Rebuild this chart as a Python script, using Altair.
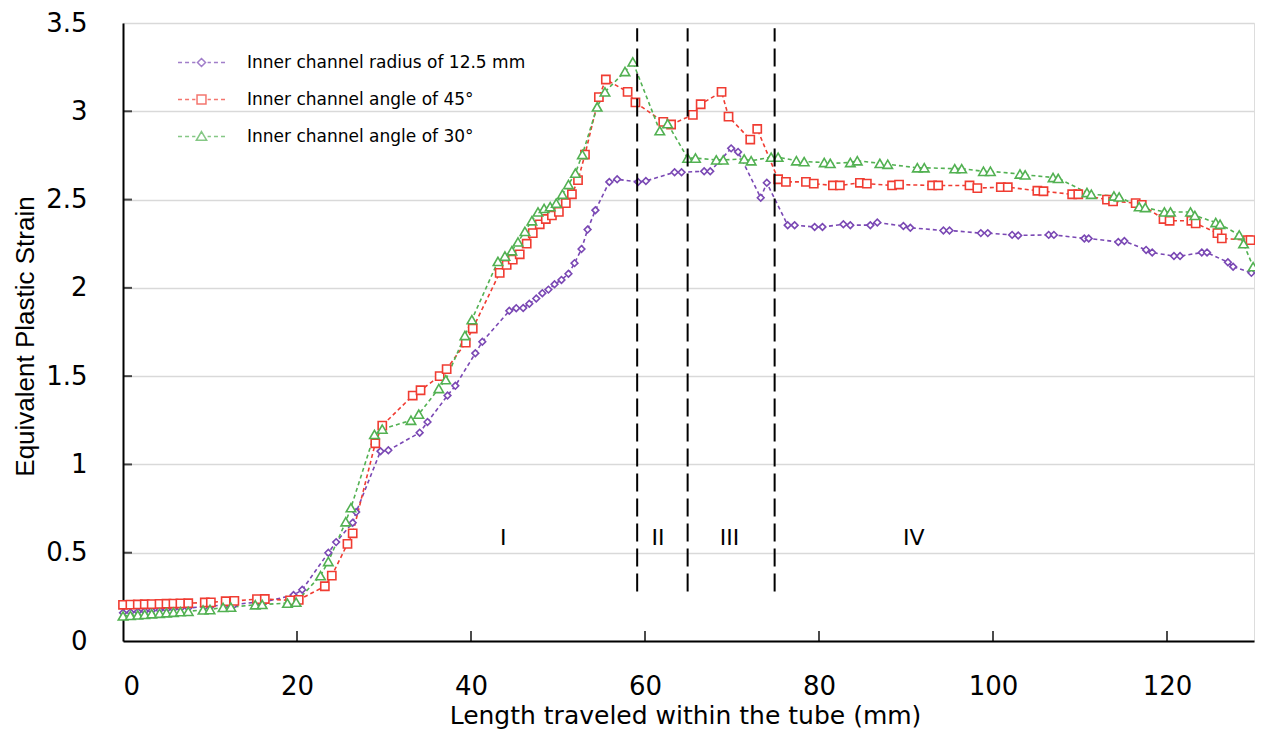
import altair as alt
import pandas as pd

S1 = "Inner channel radius of 12.5 mm"
S2 = "Inner channel angle of 45°"
S3 = "Inner channel angle of 30°"
series_names = [S1, S2, S3]
series_colors = ["#7A48B4", "#F03C32", "#52B152"]

# Inner channel radius of 12.5 mm
rad_x = [0, 0.85, 1.7, 2.5, 3.3, 4.2, 5.0, 5.8, 6.6, 7.5, 9.4, 10.1, 11.8, 12.8, 15.4, 16.3,
         19.6, 20.6, 23.6, 24.5, 26.4, 26.8, 29.6, 30.5, 34.1, 35.0, 37.3, 38.2, 40.5, 41.3,
         44.4, 45.2, 46.0, 46.7, 47.5, 48.2, 48.9, 49.6, 50.4, 51.2, 51.9, 52.7, 53.4, 54.3,
         55.9, 56.8, 59.2, 60.1, 63.4, 64.2, 66.8, 67.5, 69.9, 70.7, 73.3, 74.0, 76.4, 77.2,
         79.5, 80.4, 82.8, 83.6, 85.9, 86.7, 89.7, 90.5, 94.3, 95.0, 98.6, 99.4, 102.2, 102.9,
         106.4, 107.0, 110.5, 111.0, 114.4, 115.1, 117.6, 118.3, 120.8, 121.5, 124.0, 124.6,
         127.0, 127.6, 129.7]
rad_y = [0.16, 0.163, 0.166, 0.169, 0.172, 0.175, 0.178, 0.181, 0.184, 0.187, 0.195, 0.197,
         0.205, 0.207, 0.22, 0.222, 0.26, 0.29, 0.50, 0.56, 0.67, 0.73, 1.075, 1.08, 1.18, 1.24,
         1.39, 1.445, 1.63, 1.695, 1.87, 1.885, 1.886, 1.91, 1.94, 1.97, 1.99, 2.02, 2.045, 2.08,
         2.14, 2.22, 2.33, 2.44, 2.60, 2.615, 2.60, 2.605, 2.655, 2.655, 2.66, 2.66, 2.79, 2.77,
         2.51, 2.595, 2.355, 2.355, 2.345, 2.345, 2.36, 2.355, 2.355, 2.37, 2.35, 2.34, 2.325,
         2.325, 2.31, 2.31, 2.30, 2.297, 2.30, 2.30, 2.28, 2.28, 2.26, 2.265, 2.215, 2.20, 2.18,
         2.18, 2.20, 2.20, 2.145, 2.12, 2.085]

# Inner channel angle of 45 deg
a45_x = [0, 0.85, 1.7, 2.5, 3.3, 4.2, 5.0, 5.8, 6.6, 7.5, 9.4, 10.1, 11.8, 12.8, 15.4, 16.3,
         19.2, 20.2, 23.2, 24.0, 25.8, 26.4, 29.0, 29.8, 33.3, 34.2, 36.4, 37.2, 39.4, 40.2,
         43.3, 44.1, 44.8, 45.6, 46.4, 47.1, 47.9, 48.6, 49.3, 50.1, 50.9, 51.6, 52.3, 53.1,
         54.7, 55.5, 58.0, 58.9, 62.1, 63.0, 65.5, 66.4, 68.8, 69.6, 72.1, 72.9, 75.3, 76.2,
         78.5, 79.4, 81.6, 82.4, 84.7, 85.5, 88.4, 89.2, 93.0, 93.7, 97.3, 98.2, 100.9, 101.7,
         105.1, 105.8, 109.1, 109.8, 113.1, 113.8, 116.4, 117.1, 119.6, 120.3, 122.8, 123.3,
         125.8, 126.3, 129.3, 129.6]
a45_y = [0.205, 0.206, 0.207, 0.208, 0.209, 0.21, 0.211, 0.212, 0.213, 0.214, 0.218, 0.219,
         0.225, 0.227, 0.237, 0.238, 0.230, 0.233, 0.31, 0.37, 0.55, 0.61, 1.12, 1.22, 1.39, 1.42,
         1.50, 1.54, 1.69, 1.77, 2.085, 2.13, 2.16, 2.19, 2.25, 2.31, 2.36, 2.39, 2.41, 2.43,
         2.48, 2.53, 2.61, 2.755, 3.08, 3.18, 3.11, 3.05, 2.94, 2.925, 2.98, 3.04, 3.11, 2.97,
         2.84, 2.90, 2.615, 2.60, 2.60, 2.59, 2.58, 2.58, 2.595, 2.59, 2.58, 2.585, 2.58, 2.58,
         2.58, 2.565, 2.57, 2.57, 2.55, 2.547, 2.53, 2.53, 2.50, 2.49, 2.48, 2.47, 2.39, 2.38,
         2.38, 2.365, 2.31, 2.28, 2.27, 2.27]

# Inner channel angle of 30 deg
a30_x = [0, 0.85, 1.7, 2.5, 3.3, 4.2, 5.0, 5.8, 6.6, 7.5, 9.2, 10.0, 11.5, 12.4, 15.2, 16.0,
         18.9, 19.9, 22.7, 23.6, 25.6, 26.2, 28.9, 29.8, 33.1, 34.0, 36.3, 37.1, 39.3, 40.1,
         43.1, 43.9, 44.7, 45.4, 46.2, 47.0, 47.7, 48.4, 49.1, 49.8, 50.5, 51.2, 52.0, 52.8,
         54.5, 55.4, 57.7, 58.6, 61.7, 62.6, 64.9, 65.8, 68.2, 69.0, 71.4, 72.2, 74.5, 75.3,
         77.4, 78.3, 80.6, 81.3, 83.6, 84.4, 87.0, 87.9, 91.3, 92.1, 95.6, 96.4, 98.9, 99.7,
         103.1, 103.7, 106.9, 107.5, 110.8, 111.3, 113.9, 114.5, 116.8, 117.5, 119.7, 120.4,
         122.7, 123.2, 125.6, 126.1, 128.3, 128.8, 129.9]
a30_y = [0.142, 0.145, 0.148, 0.151, 0.154, 0.157, 0.16, 0.163, 0.166, 0.168, 0.176, 0.178,
         0.19, 0.192, 0.205, 0.207, 0.214, 0.22, 0.37, 0.45, 0.675, 0.755, 1.17, 1.20, 1.25,
         1.285, 1.43, 1.48, 1.73, 1.82, 2.15, 2.18, 2.21, 2.26, 2.32, 2.38, 2.43, 2.45, 2.46,
         2.48, 2.53, 2.585, 2.65, 2.755, 3.025, 3.11, 3.225, 3.28, 2.89, 2.93, 2.735, 2.735,
         2.725, 2.725, 2.73, 2.72, 2.74, 2.74, 2.72, 2.715, 2.71, 2.705, 2.71, 2.72, 2.705, 2.70,
         2.68, 2.68, 2.675, 2.675, 2.66, 2.66, 2.645, 2.64, 2.625, 2.62, 2.54, 2.53, 2.52, 2.515,
         2.46, 2.455, 2.43, 2.43, 2.43, 2.41, 2.37, 2.36, 2.30, 2.25, 2.12]

boundary_x = [59.1, 64.9, 74.9]
boundary_y1 = 0.28
boundary_y2 = 3.47
region_labels = ["I", "II", "III", "IV"]
region_x = [43.7, 61.5, 69.7, 90.9]
region_y = 0.585

x_ticks = [0, 20, 40, 60, 80, 100, 120]
y_ticks = [0, 0.5, 1, 1.5, 2, 2.5, 3, 3.5]

rows = []
for name, xs, ys in [(S1, rad_x, rad_y), (S2, a45_x, a45_y), (S3, a30_x, a30_y)]:
    for xv, yv in zip(xs, ys):
        rows.append({"x": xv, "y": yv, "series": name})
df = pd.DataFrame(rows)

bounds_df = pd.DataFrame({"x": boundary_x, "y1": [boundary_y1] * 3, "y2": [boundary_y2] * 3})
regions_df = pd.DataFrame({"x": region_x, "y": [region_y] * 4, "label": region_labels})
xt_df = pd.DataFrame({"x": x_ticks[1:]})
yt_df = pd.DataFrame({"y": y_ticks[1:-1]})

W, H = 1131, 618
XS = alt.Scale(domain=[0, 130], nice=False, zero=False)
YS = alt.Scale(domain=[0, 3.5], nice=False)

LABEL_FONT = "DejaVu Sans"

x_enc = alt.X("x:Q", scale=XS, title="Length traveled within the tube (mm)",
              axis=alt.Axis(values=x_ticks, grid=False, ticks=False, domainColor="black",
                            domainWidth=2, labelFont=LABEL_FONT, labelFontSize=26,
                            labelColor="black", labelPadding=32, titleFont=LABEL_FONT,
                            titleFontSize=25, titleFontWeight="normal", titleColor="black",
                            titleX=562, titleY=82, titleBaseline="alphabetic"))
y_enc = alt.Y("y:Q", scale=YS, title="Equivalent Plastic Strain",
              axis=alt.Axis(values=y_ticks, format=".1~f", grid=True, gridColor="#D9D9D9",
                            gridWidth=1.5, ticks=False, domainColor="black", domainWidth=2,
                            labelFont=LABEL_FONT, labelFontSize=26, labelColor="black",
                            labelPadding=36, titleFont="Liberation Sans", titleFontSize=26,
                            titleFontWeight="normal", titleColor="black", titleX=-98,
                            titleY=313, titleBaseline="middle", titleAngle=-90))

def cscale():
    return alt.Scale(domain=series_names, range=series_colors)

base = alt.Chart(df)

lines = base.mark_line(strokeDash=[4, 3], strokeWidth=1.6).encode(
    x=x_enc, y=y_enc,
    color=alt.Color("series:N", scale=cscale(), legend=None),
    detail="series:N",
)

points = base.mark_point(filled=False, fill="white", fillOpacity=1, strokeWidth=1.6).encode(
    x="x:Q", y="y:Q",
    color=alt.Color("series:N", scale=cscale(), legend=None),
    shape=alt.Shape("series:N", scale=alt.Scale(domain=series_names,
                                                range=["diamond", "square", "triangle-up"]),
                    legend=None),
    size=alt.Size("series:N", scale=alt.Scale(domain=series_names, range=[45, 90, 85]),
                  legend=None),
)

dashes = "M-1,0L-0.83,0M-0.7,0L-0.53,0M-0.4,0L-0.26,0M0.26,0L0.4,0M0.53,0L0.7,0M0.83,0L1,0"
leg_paths = [
    dashes + "M0,-0.17L0.17,0L0,0.17L-0.17,0Z",
    dashes + "M-0.19,-0.19L0.19,-0.19L0.19,0.19L-0.19,0.19Z",
    dashes + "M0,-0.21L0.22,0.16L-0.22,0.16Z",
]

def leg():
    return alt.Legend(title=None, orient="none", legendX=54, legendY=15, padding=0,
                      symbolSize=2209, symbolStrokeWidth=1.5, symbolFillColor="white",
                      labelFont=LABEL_FONT, labelFontSize=17, labelColor="black",
                      labelOffset=21, rowPadding=4, labelLimit=500)

legend_layer = base.mark_point(filled=False).encode(
    x="x:Q", y="y:Q",
    color=alt.Color("series:N", scale=cscale(), legend=leg()),
    shape=alt.Shape("series:N", scale=alt.Scale(domain=series_names, range=leg_paths),
                    legend=leg()),
).transform_filter("datum.x < -1000")

vlines = alt.Chart(bounds_df).mark_rule(color="black", strokeWidth=2, strokeDash=[18, 7]).encode(
    x="x:Q", y="y1:Q", y2="y2:Q"
)

rtext = alt.Chart(regions_df).mark_text(font=LABEL_FONT, fontSize=22, color="black").encode(
    x="x:Q", y="y:Q", text="label:N"
)

xticks = alt.Chart(xt_df).mark_tick(color="black", thickness=2, size=10).encode(
    x="x:Q", y=alt.value(H - 5)
)
yticks = alt.Chart(yt_df).mark_tick(color="black", thickness=2, size=9).encode(
    y="y:Q", x=alt.value(4.5)
)

chart = alt.layer(lines, points, vlines, rtext, xticks, yticks, legend_layer).resolve_scale(
    color="independent", shape="independent", size="independent"
).properties(
    width=W, height=H,
    autosize=alt.AutoSizeParams(type="none"),
    padding={"left": 115, "top": 15, "right": 1, "bottom": 88},
).configure_view(stroke="black", strokeWidth=1.5).configure(background="white")

chart.save("out.html", embed_options={"renderer": "svg", "actions": False})
